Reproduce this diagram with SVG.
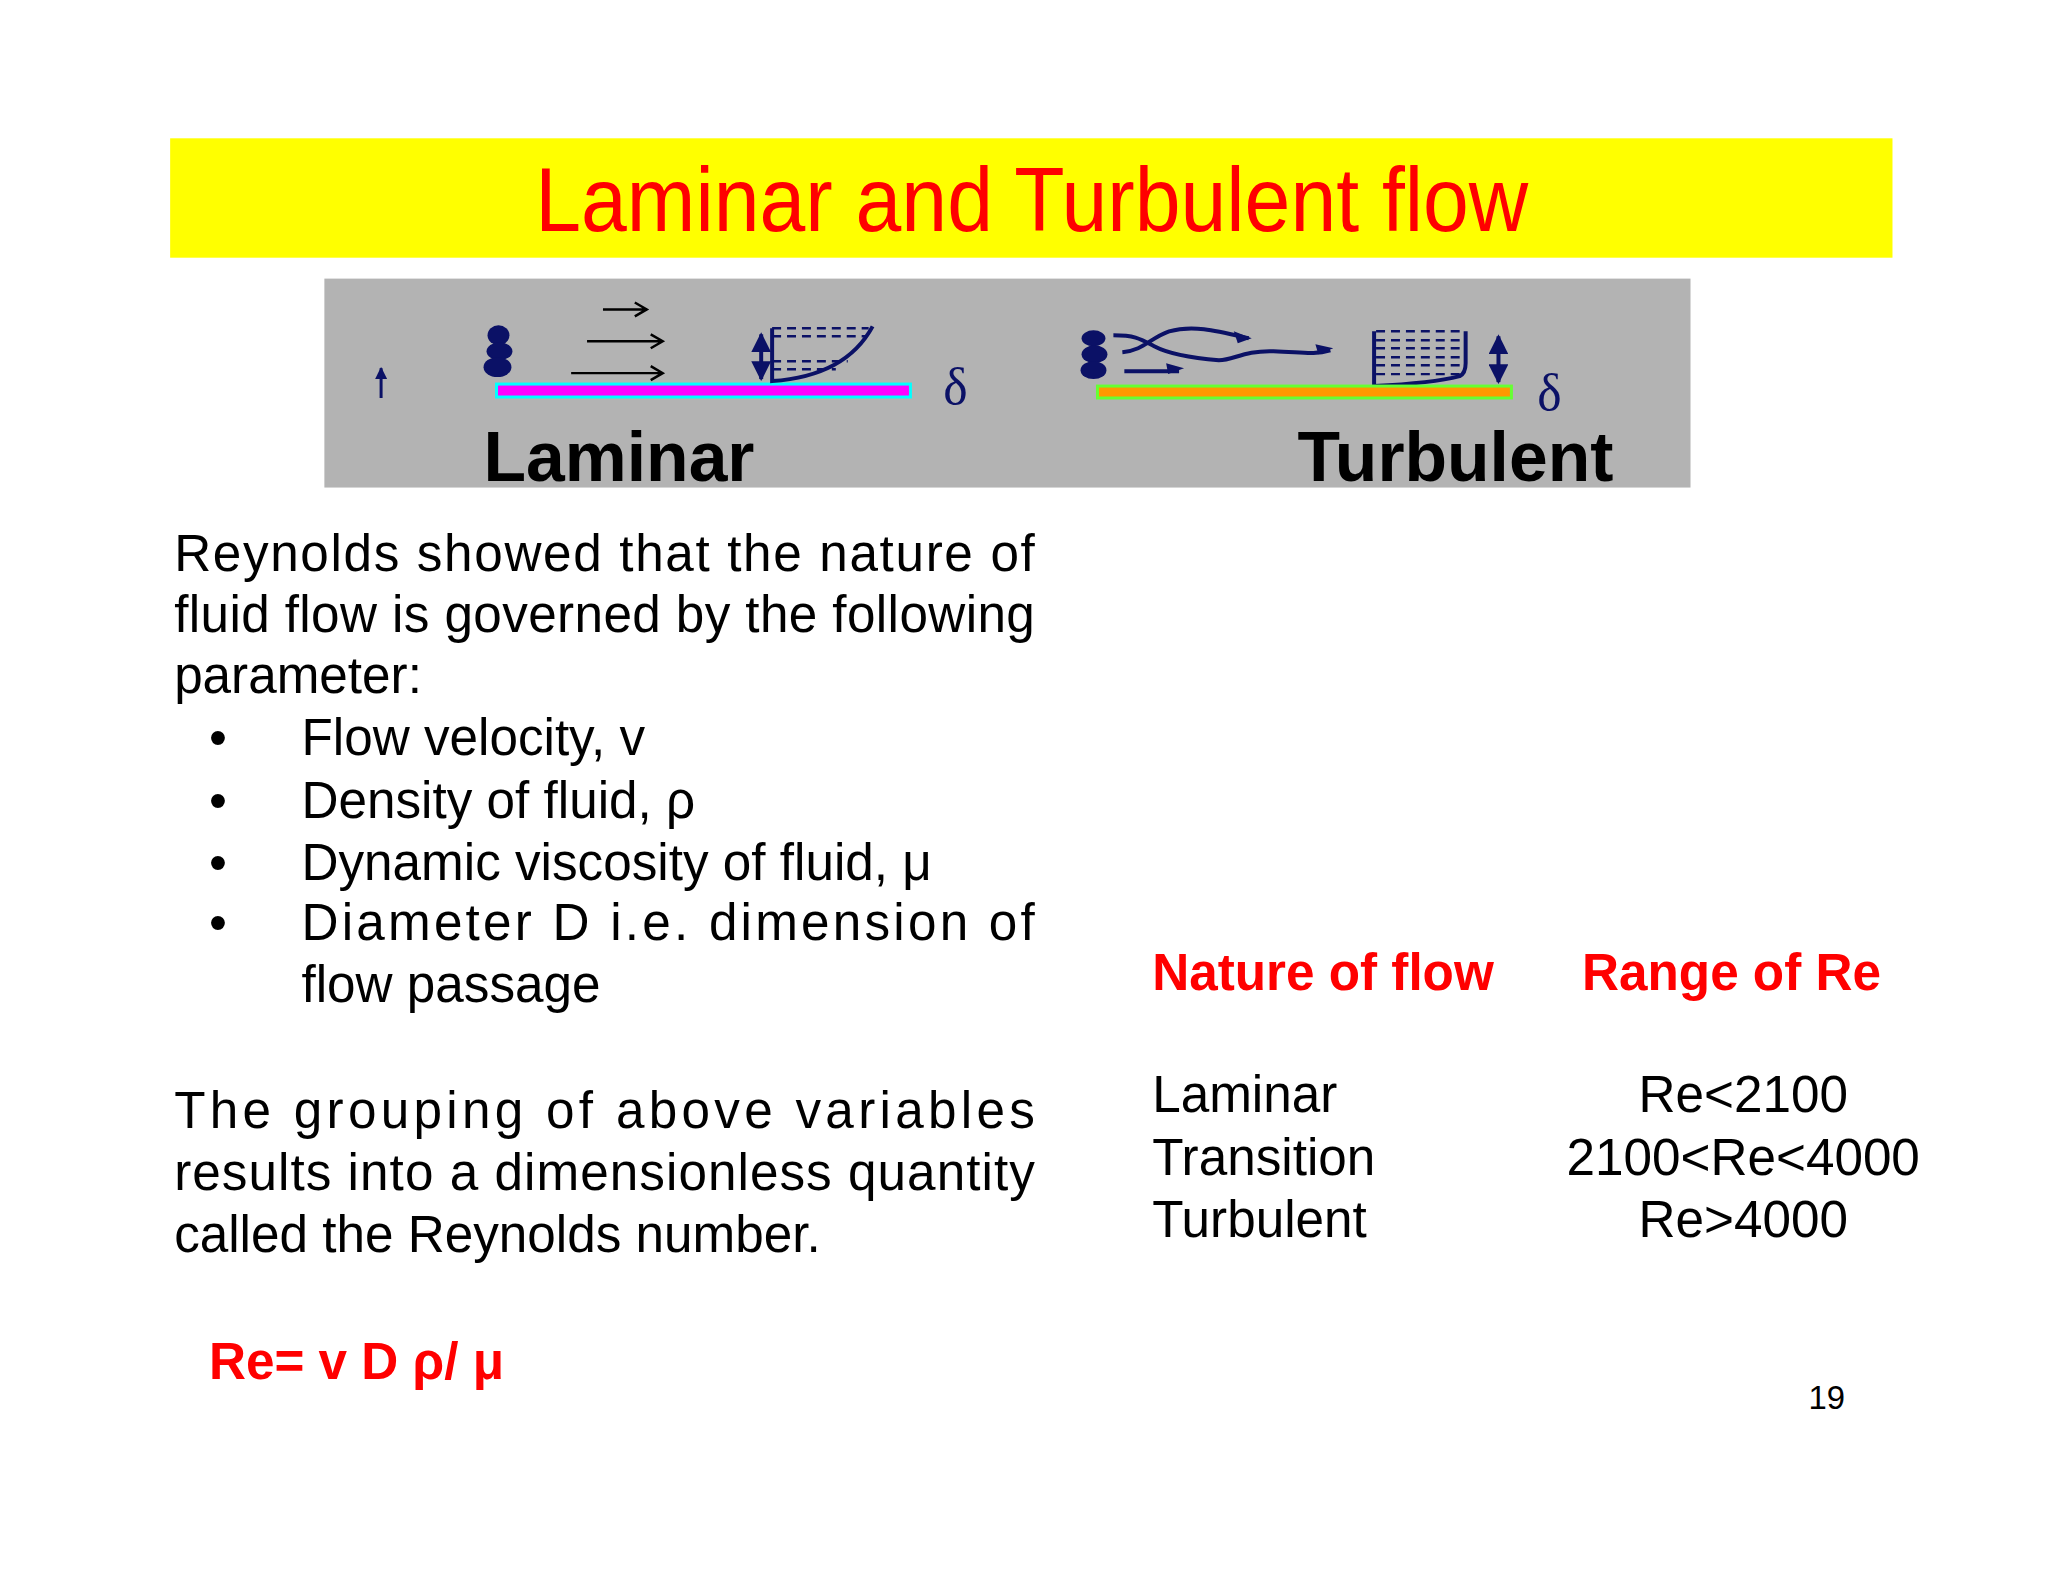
<svg xmlns="http://www.w3.org/2000/svg" width="2048" height="1582" viewBox="0 0 2048 1582">
<style>
.t{font-family:"Liberation Sans",Arial,sans-serif;font-size:51.5px;fill:#000}
.r{font-family:"Liberation Sans",Arial,sans-serif;font-size:51.5px;fill:#f00;font-weight:bold}
.n{stroke:#0b1166;fill:none;stroke-width:4}
.d{stroke:#0b1166;stroke-width:2.5;stroke-dasharray:9,6}
.k{stroke:#000;fill:none;stroke-width:2.5}
.big{font-family:"Liberation Sans",Arial,sans-serif;font-size:70px;font-weight:bold;fill:#000}
.del{font-family:"Liberation Serif","Times New Roman",serif;font-size:52px;fill:#0b1166}
</style>
<defs>
<marker id="ah" viewBox="0 0 10 10" refX="9" refY="5" markerWidth="5" markerHeight="5" orient="auto-start-reverse"><path d="M0,0L10,5L0,10z" fill="#0b1166"/></marker>
<marker id="ah2" viewBox="0 0 10 10" refX="9" refY="5" markerWidth="4" markerHeight="4" orient="auto"><path d="M0,0L10,5L0,10z" fill="#0b1166"/></marker>
</defs>
<rect width="2048" height="1582" fill="#fff"/>
<g transform="scale(0.995)">
<g id="title">
<rect x="171" y="139" width="1731" height="120" fill="#ffff00"/>
<text x="1037" y="232" text-anchor="middle" font-family="Liberation Sans,Arial,sans-serif" font-size="92" fill="#f00" textLength="998" lengthAdjust="spacingAndGlyphs">Laminar and Turbulent flow</text>
</g>
<g id="figure">
<rect x="326" y="280" width="1373" height="210" fill="#b3b3b3"/>
<line x1="383" y1="400" x2="383" y2="370" stroke="#0b1166" stroke-width="3" marker-end="url(#ah2)"/>
<g fill="#0b1166"><ellipse cx="501" cy="337" rx="11" ry="10"/><ellipse cx="502" cy="353" rx="13" ry="9"/><ellipse cx="500" cy="369" rx="14" ry="10"/></g>
<path class="k" d="M606 311H650M638 304L650 311L638 318M590 343H666M654 336L666 343L654 350M574 375H666M654 368L666 375L654 382"/>
<rect x="499" y="386" width="416" height="13" fill="#ff00ff" stroke="#00ffff" stroke-width="3"/>
<line x1="765" y1="336" x2="765" y2="381" class="n" stroke-width="3" marker-start="url(#ah)" marker-end="url(#ah)"/>
<path class="n" d="M776 330V383Q850 378 877 328"/>
<path class="d" d="M776 330H873M776 338H870M776 363H852M776 371H840"/>
<text x="948" y="406" class="del">δ</text>
<text x="486" y="483" class="big">Laminar</text>
<g fill="#0b1166"><ellipse cx="1099" cy="340" rx="12" ry="8"/><ellipse cx="1100" cy="356" rx="13" ry="9"/><ellipse cx="1099" cy="372" rx="13" ry="9"/></g>
<path class="n" d="M1119 337C1140 337 1145 340 1160 348C1175 356 1200 360 1225 362C1240 362 1250 352 1280 353C1310 354 1320 357 1337 352M1128 354C1150 352 1155 340 1175 333C1200 326 1225 333 1255 340M1130 373H1185"/>
<path fill="#0b1166" d="M1258 340L1240 333L1244 345zM1340 350L1322 346L1325 356zM1190 370L1172 365L1174 376z"/>
<path class="n" stroke-width="3" d="M1381 333V388Q1440 385 1467 378Q1473 375 1473 365V333"/>
<path class="d" stroke-dasharray="12,6" d="M1383 333H1473M1383 342H1473M1383 350H1473M1383 359H1473M1383 367H1473M1383 376H1473"/>
<line x1="1506" y1="338" x2="1506" y2="384" class="n" stroke-width="3" marker-start="url(#ah)" marker-end="url(#ah)"/>
<rect x="1103" y="388" width="416" height="12" fill="#ff9900" stroke="#66ff33" stroke-width="3"/>
<text x="1545" y="412" class="del">δ</text>
<text x="1304" y="483" class="big">Turbulent</text>
</g>
<g id="body">
<text x="175" y="574" class="t" textLength="865" lengthAdjust="spacing">Reynolds showed that the nature of</text>
<text x="175" y="635" class="t" textLength="865" lengthAdjust="spacing">fluid flow is governed by the following</text>
<text x="175" y="696" class="t">parameter:</text>
<text x="210" y="759" class="t">•</text><text x="303" y="759" class="t">Flow velocity, v</text>
<text x="210" y="822" class="t">•</text><text x="303" y="822" class="t">Density of fluid, ρ</text>
<text x="210" y="884" class="t">•</text><text x="303" y="884" class="t">Dynamic viscosity of fluid, μ</text>
<text x="210" y="945" class="t">•</text><text x="303" y="945" class="t" textLength="737" lengthAdjust="spacing">Diameter D i.e. dimension of</text>
<text x="303" y="1007" class="t">flow passage</text>
<text x="175" y="1134" class="t" textLength="865" lengthAdjust="spacing">The grouping of above variables</text>
<text x="175" y="1196" class="t" textLength="865" lengthAdjust="spacing">results into a dimensionless quantity</text>
<text x="175" y="1258" class="t">called the Reynolds number.</text>
<text x="210" y="1386" class="r" font-size="53.5">Re= v D ρ/ μ</text>
</g>
<g id="table">
<text x="1158" y="995" class="r">Nature of flow</text>
<text x="1590" y="995" class="r">Range of Re</text>
<text x="1158" y="1118" class="t">Laminar</text>
<text x="1158" y="1181" class="t">Transition</text>
<text x="1158" y="1243" class="t">Turbulent</text>
<text x="1752" y="1118" class="t" text-anchor="middle">Re&lt;2100</text>
<text x="1752" y="1181" class="t" text-anchor="middle">2100&lt;Re&lt;4000</text>
<text x="1752" y="1243" class="t" text-anchor="middle">Re&gt;4000</text>
<text x="1836" y="1416" class="t" font-size="33" text-anchor="middle" style="font-size:33px">19</text>
</g>
<g id="connectors"/>
</g>
</svg>
